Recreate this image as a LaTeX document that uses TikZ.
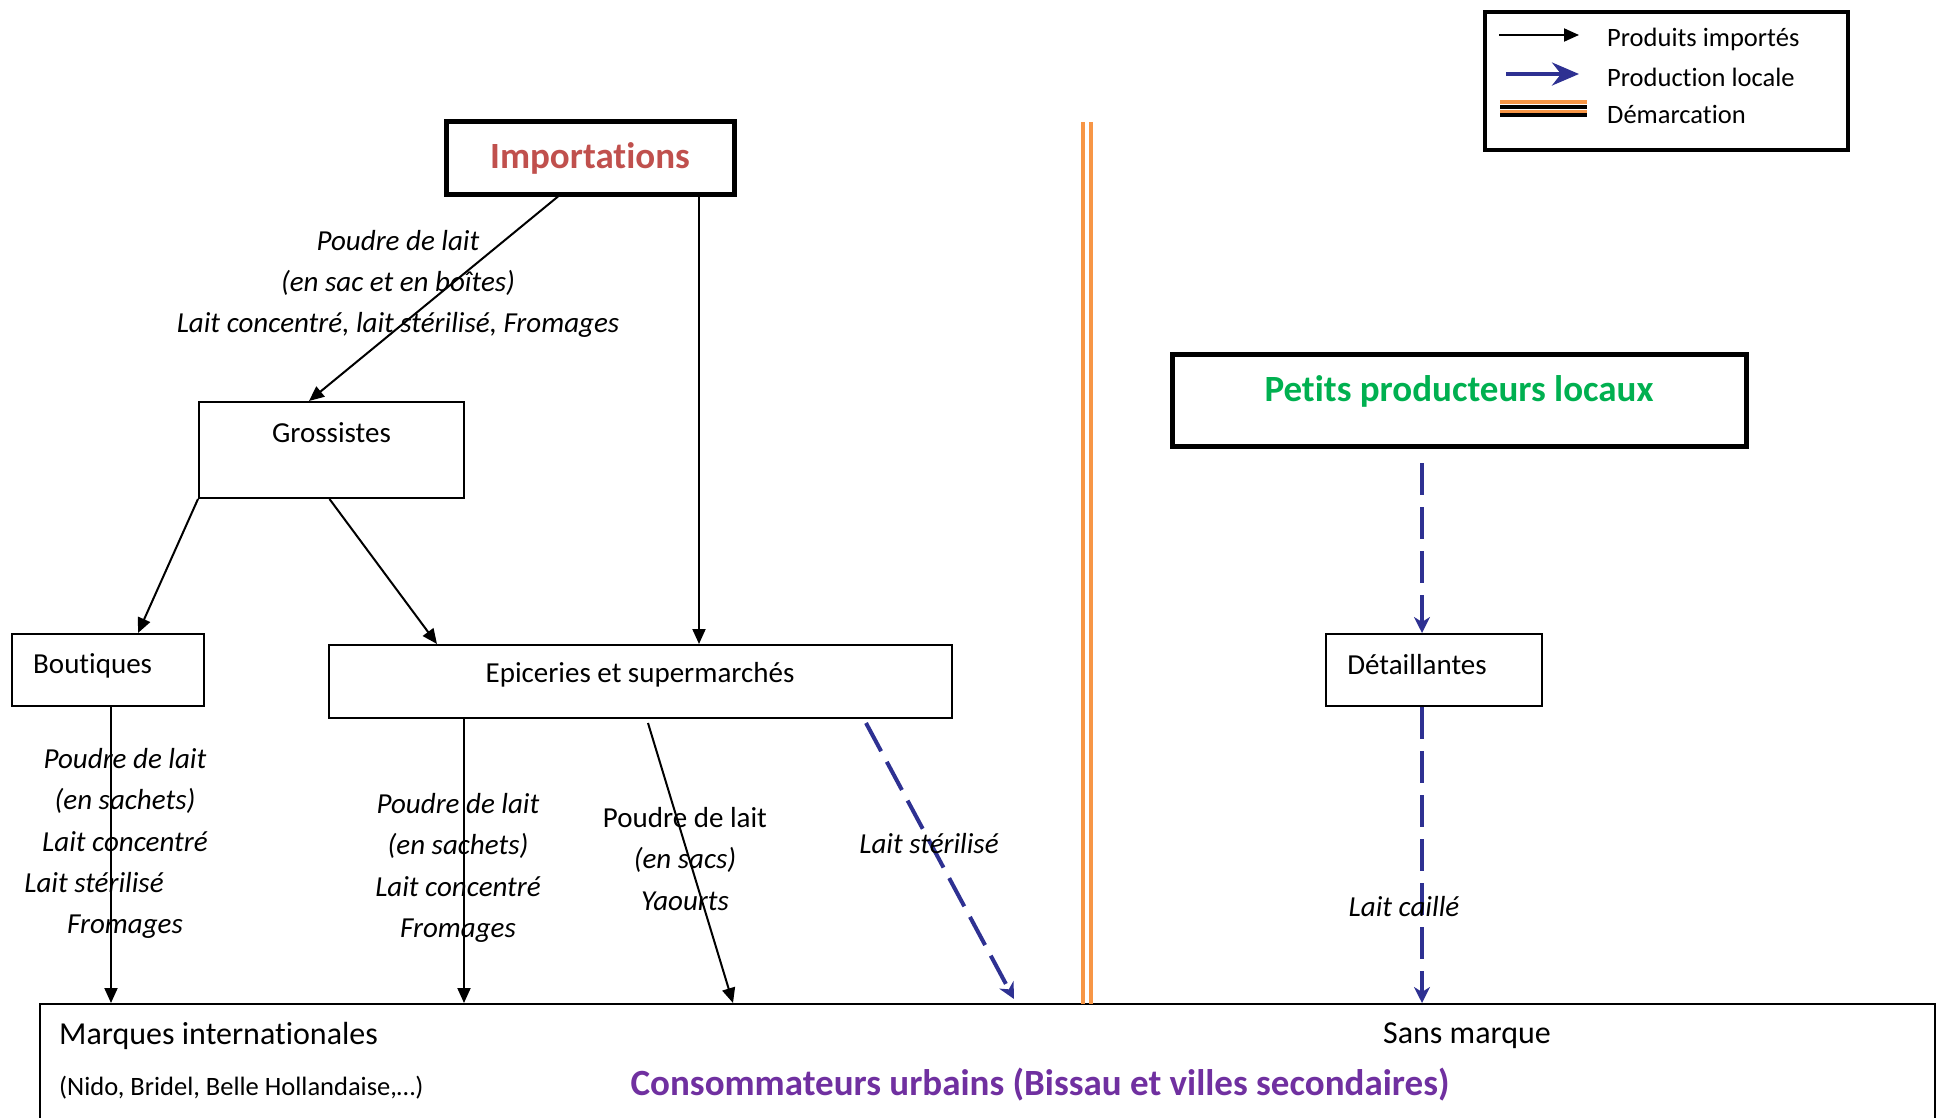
\documentclass[tikz,border=0pt]{standalone}
\usepackage{fontspec}
\setmainfont{Carlito}[Ligatures=NoCommon]
\usetikzlibrary{arrows.meta}
\definecolor{impred}{HTML}{C0504D}
\definecolor{locgreen}{HTML}{00B050}
\definecolor{conspurple}{HTML}{7030A0}
\definecolor{demorange}{HTML}{F79646}
\definecolor{locblue}{HTML}{2E3192}
\tikzset{
  box/.style={draw, line width=2pt, inner sep=0pt},
  thickbox/.style={draw, line width=5pt, inner sep=0pt},
  txt/.style={inner sep=0pt, font=\fontsize{29}{35}\selectfont},
  bigtxt/.style={inner sep=0pt, font=\fontsize{32}{38}\selectfont},
  smalltxt/.style={inner sep=0pt, font=\fontsize{26.5}{32}\selectfont},
  titletxt/.style={inner sep=0pt, font=\fontsize{37}{44}\selectfont\bfseries},
  lab/.style={inner sep=0pt, align=center, font=\fontsize{29}{41.3}\selectfont\itshape},
  imparrow/.style={line width=2pt, -{Triangle[length=15pt,width=13pt]}},
  locarrow/.style={line width=4pt, draw=locblue, dash pattern=on 32pt off 12pt,
     -{Stealth[length=16pt,width=16pt,inset=5pt]}},
  demline/.style={line width=4pt, draw=demorange},
}
\begin{document}
\begin{tikzpicture}[x=1pt,y=-1pt]
\useasboundingbox (0,0) rectangle (1939,1117);

% boxes
\node[thickbox, minimum width=288pt, minimum height=73pt] (imp) at (590,157.5) {};
\node[titletxt, text=impred] (impT) at (590,158) {Importations};

\node[box, minimum width=265pt, minimum height=96pt] (gross) at (331.5,450) {};
\node[txt] (grossT) at (331.5,433) {Grossistes};

\node[box, minimum width=192pt, minimum height=72pt] (bout) at (108,670) {};
\node[txt, anchor=west] (boutT) at (33,666) {Boutiques};

\node[box, minimum width=623pt, minimum height=73pt] (epic) at (640.5,681.5) {};
\node[txt] (epicT) at (640,675) {Epiceries et supermarchés};

\node[thickbox, minimum width=574pt, minimum height=92pt] (petit) at (1459.5,400.5) {};
\node[titletxt, text=locgreen] (petitT) at (1459,391) {Petits producteurs locaux};

\node[box, minimum width=216pt, minimum height=72pt] (det) at (1434,670) {};
\node[txt] (detT) at (1417,665) {Détaillantes};

\node[box, minimum width=1895pt, minimum height=130pt] (bot) at (987.5,1069) {};
\node[bigtxt, anchor=west] (marq) at (59,1036) {Marques internationales};
\node[smalltxt, anchor=west] (nido) at (59,1088) {(Nido, Bridel, Belle Hollandaise,…)};
\node[titletxt, text=conspurple] (cons) at (1040,1085) {Consommateurs urbains (Bissau et villes secondaires)};
\node[bigtxt] (sans) at (1467,1036) {Sans marque};

% demarcation
\coordinate (dA1) at (1083,122); \coordinate (dA2) at (1083,1004);
\coordinate (dB1) at (1091,122); \coordinate (dB2) at (1091,1004);
\draw[demline] (dA1) -- (dA2);
\draw[demline] (dB1) -- (dB2);

% imported connectors
\draw[imparrow] ([xshift=-32pt]imp.south) -- ([xshift=-22.5pt]gross.north);
\draw[imparrow] ([xshift=109pt]imp.south) -- ([xshift=58.5pt]epic.north);
\draw[imparrow] (gross.south west) -- ([xshift=30pt]bout.north);
\draw[imparrow] ([xshift=-2pt]gross.south) -- ([xshift=-203.5pt]epic.north);
\draw[imparrow] ([xshift=3pt]bout.south) -- ([xshift=3pt]bout.south |- bot.north);
\draw[imparrow] ([xshift=-176.5pt]epic.south) -- ([xshift=-176.5pt]epic.south |- bot.north);
\draw[imparrow] ([shift={(7.5,4)}]epic.south) -- ([xshift=-254.5pt]bot.north);

% local connectors
\draw[locarrow] ([shift={(225.5,4)}]epic.south) -- ([shift={(26.5,-4)}]bot.north);
\draw[locarrow] ([shift={(-37.5,14)}]petit.south) -- ([xshift=-12pt]det.north);
\draw[locarrow] ([xshift=-12pt]det.south) -- ([xshift=-12pt]det.south |- bot.north);

% labels
\node[lab] (l1) at (398,284) {Poudre de lait\\(en sac et en boîtes)\\Lait concentré, lait stérilisé, Fromages};
\node[lab] (l2) at (125,843.5) {Poudre de lait\\(en sachets)\\Lait concentré\\\hspace*{-62pt}Lait stérilisé\\Fromages};
\node[lab] (l3) at (458,868) {Poudre de lait\\(en sachets)\\Lait concentré\\Fromages};
\node[lab] (l4) at (685,859) {{\upshape Poudre de lait}\\(en sacs)\\Yaourts};
\node[lab] (l5) at (929,844) {Lait stérilisé};
\node[lab] (l6) at (1404,907) {Lait caillé};

% legend
\node[draw, line width=4pt, inner sep=0pt, minimum width=363pt, minimum height=138pt] (leg) at (1666.5,81) {};
\coordinate (lg1a) at (1499,35); \coordinate (lg1b) at (1579,35);
\draw[imparrow] (lg1a) -- (lg1b);
\coordinate (lg2a) at (1506,74); \coordinate (lg2b) at (1579,74);
\draw[line width=4pt, draw=locblue, -{Stealth[length=27pt,width=23pt,inset=9pt]}] (lg2a) -- (lg2b);
\fill[demorange] (1500,100) rectangle (1587,104);
\fill[black] (1500,105) rectangle (1587,109);
\fill[demorange] (1500,109.5) rectangle (1587,113);
\fill[black] (1500,113) rectangle (1587,117);
\node[smalltxt, anchor=west] (lt1) at (1607,39) {Produits importés};
\node[smalltxt, anchor=west] (lt2) at (1607,77) {Production locale};
\node[smalltxt, anchor=west] (lt3) at (1607,114) {Démarcation};
\end{tikzpicture}
\end{document}
